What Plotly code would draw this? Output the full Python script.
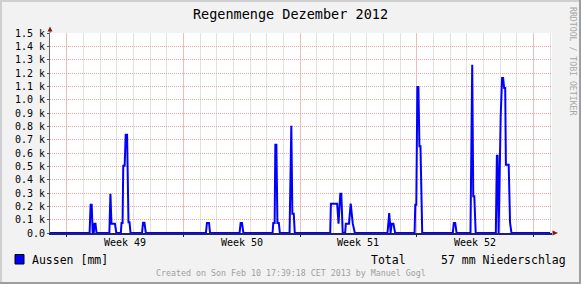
import plotly.graph_objects as go

# ---- data ----
times = [
    "2012-12-02 00:00",
    "2012-12-04 09:00", "2012-12-04 10:30", "2012-12-04 12:00", "2012-12-04 13:30",
    "2012-12-04 15:00", "2012-12-04 16:00", "2012-12-04 17:30", "2012-12-04 19:00",
    "2012-12-05 13:30", "2012-12-05 15:00", "2012-12-05 16:30", "2012-12-05 21:30", "2012-12-05 23:30",
    "2012-12-06 06:00", "2012-12-06 07:00", "2012-12-06 08:30", "2012-12-06 09:30", "2012-12-06 11:30",
    "2012-12-06 13:00", "2012-12-06 15:00", "2012-12-06 17:00", "2012-12-06 18:30", "2012-12-06 20:00",
    "2012-12-07 12:30", "2012-12-07 14:00", "2012-12-07 16:00", "2012-12-07 18:00",
    "2012-12-11 08:30", "2012-12-11 10:00", "2012-12-11 13:00", "2012-12-11 14:30",
    "2012-12-13 09:00", "2012-12-13 10:30", "2012-12-13 12:30", "2012-12-13 14:30",
    "2012-12-15 08:30", "2012-12-15 09:30", "2012-12-15 11:30", "2012-12-15 12:30",
    "2012-12-15 14:00", "2012-12-15 15:30", "2012-12-15 17:30", "2012-12-15 19:00",
    "2012-12-16 09:00", "2012-12-16 10:30", "2012-12-16 11:30", "2012-12-16 13:00",
    "2012-12-16 15:00", "2012-12-16 16:30",
    "2012-12-18 19:30", "2012-12-18 20:30", "2012-12-19 05:30", "2012-12-19 07:30",
    "2012-12-19 10:00", "2012-12-19 11:30", "2012-12-19 13:30", "2012-12-19 17:00",
    "2012-12-19 18:00", "2012-12-19 22:30", "2012-12-20 01:00", "2012-12-20 04:00", "2012-12-20 07:00",
    "2012-12-22 06:00", "2012-12-22 07:30", "2012-12-22 08:30", "2012-12-22 10:30",
    "2012-12-22 12:00", "2012-12-22 14:30", "2012-12-22 17:00",
    "2012-12-23 21:00", "2012-12-23 22:00", "2012-12-23 23:30", "2012-12-24 01:00",
    "2012-12-24 02:30", "2012-12-24 04:00", "2012-12-24 05:30", "2012-12-24 08:00",
    "2012-12-26 04:00", "2012-12-26 05:30", "2012-12-26 07:30", "2012-12-26 09:30",
    "2012-12-27 05:30", "2012-12-27 07:00", "2012-12-27 08:00", "2012-12-27 09:30",
    "2012-12-27 11:00", "2012-12-27 13:00",
    "2012-12-28 18:00", "2012-12-28 19:30", "2012-12-28 20:30", "2012-12-28 22:00",
    "2012-12-29 00:00", "2012-12-29 01:00", "2012-12-29 03:00", "2012-12-29 04:30",
    "2012-12-29 06:00", "2012-12-29 07:30", "2012-12-29 08:30", "2012-12-29 12:30",
    "2012-12-29 14:30", "2012-12-29 16:30",
    "2013-01-01 00:00",
]
rain = [
    0,
    0, 212, 212, 0,
    0, 70, 70, 0,
    0, 295, 70, 70, 0,
    0, 75, 75, 505, 505,
    737, 737, 80, 80, 0,
    0, 77, 77, 0,
    0, 75, 75, 0,
    0, 75, 75, 0,
    0, 75, 75, 662,
    662, 75, 75, 0,
    0, 805, 805, 145,
    145, 0,
    0, 220, 220, 70,
    295, 295, 0, 0,
    70, 70, 220, 70, 0,
    0, 150, 150, 0,
    70, 70, 0,
    0, 212, 212, 1095,
    1095, 650, 650, 0,
    0, 75, 75, 0,
    0, 1262, 1262, 275,
    275, 0,
    0, 580, 580, 0,
    875, 875, 1162, 1162,
    1087, 1087, 512, 512,
    75, 0,
    0,
]

week_start0 = "2012-12-03"          # first Monday (ISO week 49)
week_mids = ["2012-12-06 12:00", "2012-12-13 12:00", "2012-12-20 12:00", "2012-12-27 12:00"]
week_labels = ["Week 49", "Week 50", "Week 51", "Week 52"]
y_ticks = list(range(0, 1501, 100))
y_labels = ["0.0"] + [f"{v / 1000:.1f} k" for v in y_ticks[1:]]

title_text = "Regenmenge Dezember 2012"
legend_text = "Aussen [mm]"
total_label = "Total"
total_value = "57 mm Niederschlag"
created_text = "Created on Son Feb 10 17:39:18 CET 2013 by Manuel Gogl"
watermark = "RRDTOOL / TOBI OETIKER"

x_start, x_end = "2012-12-02 00:00", "2013-01-01 02:53"

# ---- layout helpers ----
W, H = 581, 284
L, R, T, B = 50, 29, 33, 51
PW, PH = W - L - R, H - T - B


def px(x):
    return (x - L) / PW


def py(y):
    return (H - B - y) / PH


FONT = "DejaVu Sans Mono"
MGRID = "#e8a6a6"
VGRID = "#e2e2e2"
VMGRID = "#eebcbc"
ARROW = "#7f1f1f"
DAY = 86400000

fig = go.Figure()
fig.add_trace(go.Scatter(x=times, y=rain, mode="lines",
                         line=dict(color="#0000ff", width=2), showlegend=False,
                         hoverinfo="skip"))

shapes = []
# frame (3D border)
shapes.append(dict(type="rect", xref="paper", yref="paper", x0=px(0), x1=px(W), y0=py(H - 2), y1=py(H),
                   fillcolor="#9e9e9e", line_width=0, layer="above"))
shapes.append(dict(type="rect", xref="paper", yref="paper", x0=px(W - 2), x1=px(W), y0=py(H), y1=py(0),
                   fillcolor="#9e9e9e", line_width=0, layer="above"))
shapes.append(dict(type="rect", xref="paper", yref="paper", x0=px(0), x1=px(W - 2), y0=py(2), y1=py(0),
                   fillcolor="#cfcfcf", line_width=0, layer="above"))
shapes.append(dict(type="rect", xref="paper", yref="paper", x0=px(0), x1=px(2), y0=py(H - 2), y1=py(0),
                   fillcolor="#cfcfcf", line_width=0, layer="above"))
# axis arrows
shapes.append(dict(type="line", xref="paper", yref="paper", x0=0, x1=0, y0=1, y1=py(30),
                   line=dict(color="#666666", width=1)))
shapes.append(dict(type="path", xref="paper", yref="paper",
                   path=f"M {px(47.5)},{py(31.5)} L {px(52.5)},{py(31.5)} L {px(50)},{py(26.5)} Z",
                   fillcolor=ARROW, line_width=0))
shapes.append(dict(type="path", xref="paper", yref="paper",
                   path=f"M {px(552.5)},{py(230.5)} L {px(552.5)},{py(235.5)} L {px(558)},{py(233)} Z",
                   fillcolor=ARROW, line_width=0))
# legend box
shapes.append(dict(type="rect", xref="paper", yref="paper", x0=px(15), x1=px(24), y0=py(264), y1=py(254.5),
                   fillcolor="#0000ff", line=dict(color="#000000", width=1)))

annotations = [
    dict(text=lab, xref="x", yref="paper", x=m, y=py(242.5), xanchor="center", yanchor="middle",
         showarrow=False, font=dict(family=FONT, size=10, color="#000"))
    for m, lab in zip(week_mids, week_labels)
]
annotations += [
    dict(text=legend_text, xref="paper", yref="paper", x=px(30), y=py(259.5), xanchor="left",
         yanchor="middle", showarrow=False, font=dict(family=FONT, size=11.5, color="#000")),
    dict(text=total_label, xref="paper", yref="paper", x=px(368.5), y=py(259.5), xanchor="left",
         yanchor="middle", showarrow=False, font=dict(family=FONT, size=11.5, color="#000")),
    dict(text=total_value, xref="paper", yref="paper", x=px(438.5), y=py(259.5), xanchor="left",
         yanchor="middle", showarrow=False, font=dict(family=FONT, size=11.5, color="#000")),
    dict(text=created_text, xref="paper", yref="paper", x=px(290.5), y=py(272.5), xanchor="center",
         yanchor="middle", showarrow=False, font=dict(family=FONT, size=8.3, color="#a0a0a0")),
    dict(text=watermark, xref="paper", yref="paper", x=px(573), y=py(61), xanchor="center",
         yanchor="middle", textangle=90, showarrow=False, font=dict(family=FONT, size=8.2, color="#a8a8a8")),
]

fig.update_layout(
    width=W, height=H,
    margin=dict(l=L, r=R, t=T, b=B, pad=0, autoexpand=False),
    paper_bgcolor="#f2f2f2", plot_bgcolor="#ffffff",
    title=dict(text=title_text, x=290.5 / W, xanchor="center", y=1 - 14 / H, yanchor="middle",
               font=dict(family=FONT, size=13.5, color="#000")),
    xaxis=dict(type="date", range=[x_start, x_end], tickmode="linear", tick0=week_start0,
               dtick=7 * DAY, showticklabels=False, showgrid=True, gridcolor=VMGRID,
               griddash="solid", gridwidth=1, ticks="outside", ticklen=2, tickcolor="#1f1f1f",
               showline=True, linecolor="#20206e", linewidth=2, zeroline=False,
               minor=dict(tickmode="linear", tick0=x_start, dtick=DAY, showgrid=True,
                          gridcolor=VGRID, griddash="solid", gridwidth=1, ticks=""),
               fixedrange=True),
    yaxis=dict(range=[0, 1500], tickmode="array", tickvals=y_ticks, ticktext=y_labels,
               showgrid=True, gridcolor=MGRID, griddash="1px,1px", gridwidth=1,
               ticks="outside", ticklen=2, tickcolor="#555555", showline=True, linecolor="#666666",
               linewidth=1, zeroline=False, tickfont=dict(family=FONT, size=10, color="#000"),
               fixedrange=True),
    shapes=shapes, annotations=annotations, showlegend=False,
)

fig.write_html("out.html")
